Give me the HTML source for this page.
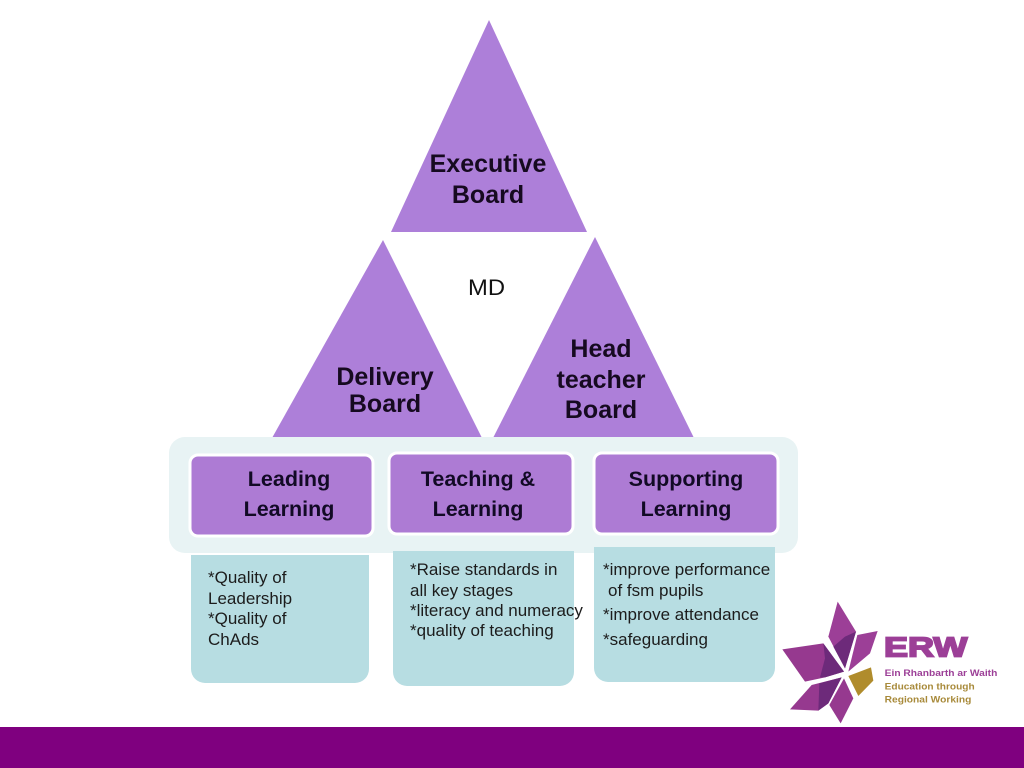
<!DOCTYPE html>
<html><head><meta charset="utf-8"><style>
html,body{margin:0;padding:0;background:#fff}
svg{display:block}
text{font-family:"Liberation Sans",sans-serif;fill:#111}
.t{font-weight:bold;font-size:25px;text-anchor:middle;fill:#160a20}
.h{font-weight:bold;font-size:21.5px;text-anchor:middle;fill:#120a25}
.b{font-size:17px;fill:#1c1c1c}
</style></head><body>
<svg width="1024" height="768" viewBox="0 0 1024 768" xmlns="http://www.w3.org/2000/svg">
<rect width="1024" height="768" fill="#fff"/>
<rect x="0" y="727" width="1024" height="41" fill="#7f007f"/>

<polygon points="489,20 587,232 391,232" fill="#ad7fd9"/>
<polygon points="383,240 482,438 272,438" fill="#ad7fd9"/>
<polygon points="595,237 694,438 493,438" fill="#ad7fd9"/>

<rect x="169" y="437" width="629" height="116" rx="16" fill="#e8f3f4"/>

<path d="M191 555H369V669a14 14 0 0 1-14 14H205a14 14 0 0 1-14-14Z" fill="#b7dde2"/>
<path d="M393 551H574V672a14 14 0 0 1-14 14H407a14 14 0 0 1-14-14Z" fill="#b7dde2"/>
<path d="M594 547H775V668a14 14 0 0 1-14 14H608a14 14 0 0 1-14-14Z" fill="#b7dde2"/>

<rect x="190" y="455" width="183" height="81" rx="8" fill="#ad7bd4" stroke="#fff" stroke-width="3"/>
<rect x="389" y="453" width="184" height="81" rx="8" fill="#ad7bd4" stroke="#fff" stroke-width="3"/>
<rect x="594" y="453" width="184" height="81" rx="8" fill="#ad7bd4" stroke="#fff" stroke-width="3"/>

<text class="t" x="488" y="172">Executive</text>
<text class="t" x="488" y="203">Board</text>
<text class="t" x="385" y="385">Delivery</text>
<text class="t" x="385" y="412">Board</text>
<text class="t" x="601" y="357">Head</text>
<text class="t" x="601" y="388">teacher</text>
<text class="t" x="601" y="418">Board</text>
<text x="468" y="295" font-size="22" textLength="37" lengthAdjust="spacingAndGlyphs" style="fill:#111">MD</text>

<text class="h" x="289" y="486">Leading</text>
<text class="h" x="289" y="516">Learning</text>
<text class="h" x="478" y="486">Teaching &amp;</text>
<text class="h" x="478" y="516">Learning</text>
<text class="h" x="686" y="486">Supporting</text>
<text class="h" x="686" y="516">Learning</text>

<text class="b" x="208" y="583">*Quality of</text>
<text class="b" x="208" y="604">Leadership</text>
<text class="b" x="208" y="624">*Quality of</text>
<text class="b" x="208" y="645">ChAds</text>

<text class="b" x="410" y="575">*Raise standards in</text>
<text class="b" x="410" y="596">all key stages</text>
<text class="b" x="410" y="616">*literacy and numeracy</text>
<text class="b" x="410" y="636">*quality of teaching</text>

<text class="b" x="603" y="575">*improve performance</text>
<text class="b" x="608" y="596">of fsm pupils</text>
<text class="b" x="603" y="620">*improve attendance</text>
<text class="b" x="603" y="645">*safeguarding</text>

<g transform="translate(770,590) scale(0.33333)">
<polygon points="203,35 258,125 225,235 175,140" fill="#9c3f97"/>
<polygon points="258,125 225,235 190,170 225,140" fill="#6d2a7a"/>
<polygon points="323,123 300,190 235,245 262,135" fill="#9c3f97"/>
<polygon points="37,178 160,160 222,245 165,262 105,275" fill="#96398f"/>
<polygon points="160,160 222,245 165,262 150,262 165,205" fill="#6d2a7a"/>
<polygon points="215,262 175,340 145,362 60,358 125,285" fill="#96398f"/>
<polygon points="215,262 175,340 145,362 148,280" fill="#6d2a7a"/>
<polygon points="222,265 250,325 212,400 178,345" fill="#96398f"/>
<polygon points="303,232 310,272 265,318 235,258" fill="#b08c2c"/>
<text x="342" y="200" style="fill:#9c3f97;stroke:#9c3f97;stroke-width:5px;font-weight:bold;font-size:82px" textLength="250" lengthAdjust="spacingAndGlyphs">ERW</text>
<text x="344" y="258" style="fill:#9c3f97;font-weight:bold;font-size:28px" textLength="338" lengthAdjust="spacingAndGlyphs">Ein Rhanbarth ar Waith</text>
<text x="344" y="298" style="fill:#a88a3a;font-weight:bold;font-size:28px" textLength="270" lengthAdjust="spacingAndGlyphs">Education through</text>
<text x="344" y="337" style="fill:#a88a3a;font-weight:bold;font-size:28px" textLength="260" lengthAdjust="spacingAndGlyphs">Regional Working</text>
</g>
</svg>
</body></html>
